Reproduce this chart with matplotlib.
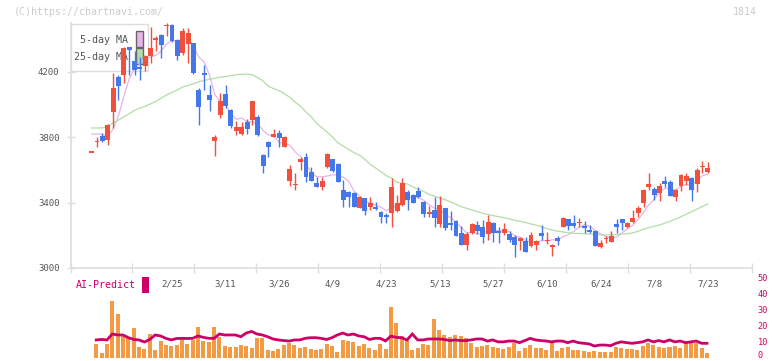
import matplotlib
matplotlib.use('Agg')
import matplotlib.pyplot as plt
import matplotlib.patches as patches
import matplotlib.transforms as mtransforms
import numpy as np

# Datos (velas diarias, volumen, AI-Predict)
open_ = [3710, 3770, 3806, 3785, 3955, 4167, 4182, 4350, 4265, 4233,
         4239, 4296, 4400, 4428, 4484, 4490, 4394, 4316, 4371, 4378,
         4092, 4194, 4061, 3779, 3939, 4065, 3969, 3837, 3822, 3896,
         3906, 3926, 3692, 3773, 3804, 3824, 3743, 3535, 3510, 3651,
         3681, 3590, 3522, 3498, 3620, 3667, 3637, 3478, 3465, 3461,
         3370, 3427, 3375, 3375, 3345, 3325, 3335, 3351, 3386, 3467,
         3447, 3473, 3406, 3331, 3355, 3269, 3365, 3277, 3290, 3216,
         3141, 3216, 3263, 3249, 3208, 3277, 3226, 3212, 3208, 3192,
         3167, 3167, 3135, 3141, 3216, 3165, 3127, 3186, 3253, 3298,
         3277, 3275, 3259, 3233, 3226, 3131, 3180, 3161, 3269, 3298,
         3253, 3284, 3339, 3396, 3498, 3482, 3457, 3533, 3524, 3437,
         3502, 3535, 3549, 3514, 3618, 3586]
high = [3710, 3804, 3825, 3880, 4192, 4180, 4350, 4355, 4327, 4290,
        4305, 4477, 4418, 4430, 4498, 4492, 4400, 4470, 4467, 4380,
        4100, 4245, 4122, 3816, 4071, 4122, 3975, 3898, 3896, 3910,
        4025, 3935, 3695, 3775, 3849, 3845, 3808, 3631, 3580, 3681,
        3702, 3620, 3555, 3555, 3706, 3670, 3640, 3539, 3470, 3465,
        3440, 3430, 3433, 3406, 3350, 3335, 3549, 3447, 3549, 3475,
        3450, 3498, 3408, 3380, 3437, 3441, 3368, 3351, 3292, 3257,
        3222, 3275, 3290, 3294, 3325, 3280, 3249, 3273, 3229, 3200,
        3190, 3188, 3222, 3170, 3263, 3222, 3145, 3196, 3310, 3300,
        3325, 3304, 3290, 3263, 3230, 3171, 3196, 3229, 3298, 3300,
        3284, 3355, 3381, 3485, 3583, 3498, 3518, 3563, 3539, 3485,
        3575, 3580, 3555, 3610, 3655, 3647]
low = [3710, 3739, 3774, 3753, 3855, 4030, 4134, 4180, 4180, 4153,
       4204, 4253, 4327, 4283, 4420, 4385, 4273, 4306, 4253, 4190,
       3877, 4092, 3959, 3684, 3918, 3980, 3857, 3816, 3812, 3820,
       3875, 3808, 3583, 3681, 3800, 3739, 3740, 3502, 3478, 3600,
       3528, 3530, 3495, 3478, 3615, 3590, 3525, 3375, 3371, 3371,
       3368, 3325, 3355, 3355, 3274, 3274, 3249, 3345, 3380, 3355,
       3398, 3427, 3310, 3314, 3249, 3253, 3233, 3233, 3195, 3138,
       3110, 3210, 3208, 3155, 3171, 3161, 3155, 3205, 3161, 3066,
       3110, 3098, 3130, 3110, 3171, 3147, 3073, 3141, 3250, 3233,
       3243, 3253, 3216, 3212, 3133, 3125, 3151, 3158, 3216, 3233,
       3243, 3273, 3314, 3375, 3478, 3416, 3412, 3494, 3440, 3412,
       3473, 3508, 3412, 3467, 3580, 3584]
close = [3710, 3776, 3776, 3874, 4104, 4112, 4345, 4335, 4214, 4220,
         4300, 4347, 4405, 4367, 4488, 4388, 4300, 4449, 4439, 4196,
         3984, 4180, 4030, 3804, 4020, 3990, 3867, 3863, 3863, 3849,
         4022, 3814, 3624, 3743, 3820, 3798, 3804, 3606, 3514, 3667,
         3559, 3535, 3498, 3535, 3698, 3594, 3528, 3416, 3433, 3375,
         3433, 3351, 3400, 3359, 3310, 3310, 3498, 3396, 3522, 3416,
         3400, 3437, 3331, 3345, 3308, 3386, 3247, 3263, 3198, 3141,
         3208, 3269, 3226, 3192, 3284, 3212, 3212, 3239, 3171, 3141,
         3182, 3100, 3202, 3167, 3196, 3169, 3141, 3167, 3304, 3257,
         3259, 3279, 3247, 3222, 3135, 3151, 3184, 3196, 3253, 3273,
         3277, 3308, 3369, 3478, 3514, 3447, 3502, 3514, 3441, 3478,
         3569, 3563, 3478, 3600, 3622, 3610]
ma5 = [3820, 3820, 3818, 3808, 3850, 3932, 4050, 4158, 4222, 4248,
       4282, 4290, 4302, 4330, 4372, 4392, 4390, 4400, 4410, 4362,
       4290, 4262, 4180, 4060, 4020, 3998, 3942, 3910, 3918, 3895,
       3895, 3884, 3842, 3815, 3806, 3768, 3762, 3752, 3710, 3682,
       3635, 3585, 3558, 3559, 3563, 3570, 3570, 3555, 3530, 3470,
       3440, 3405, 3400, 3386, 3372, 3350, 3374, 3376, 3406, 3426,
       3440, 3430, 3415, 3386, 3366, 3360, 3325, 3310, 3280, 3248,
       3215, 3218, 3210, 3208, 3234, 3236, 3226, 3228, 3222, 3196,
       3188, 3168, 3160, 3158, 3168, 3166, 3173, 3170, 3192, 3205,
       3225, 3250, 3266, 3254, 3230, 3208, 3192, 3184, 3190, 3215,
       3240, 3262, 3296, 3340, 3388, 3422, 3460, 3488, 3485, 3478,
       3500, 3512, 3508, 3538, 3565, 3574]
ma25 = [3857, 3857, 3858, 3865, 3890, 3905, 3925, 3945, 3965, 3978,
        3990, 4005, 4020, 4040, 4060, 4075, 4090, 4108, 4118, 4128,
        4140, 4148, 4155, 4162, 4168, 4172, 4178, 4183, 4186, 4188,
        4183, 4165, 4145, 4112, 4098, 4086, 4066, 4045, 4015, 3990,
        3955, 3925, 3885, 3858, 3830, 3800, 3765, 3745, 3725, 3705,
        3690, 3665, 3635, 3612, 3590, 3565, 3550, 3525, 3518, 3514,
        3495, 3482, 3468, 3450, 3440, 3428, 3418, 3405, 3390, 3375,
        3365, 3355, 3345, 3335, 3328, 3320, 3314, 3308, 3300, 3292,
        3285, 3278, 3270, 3262, 3252, 3240, 3232, 3225, 3220, 3216,
        3212, 3211, 3210, 3208, 3206, 3204, 3202, 3203, 3205, 3208,
        3210, 3215, 3225, 3237, 3247, 3255, 3263, 3275, 3287, 3300,
        3314, 3330, 3345, 3361, 3377, 3392]
volume = [0, 8.6, 2.9, 8.6, 35.6, 27.3, 13.6, 12.7, 18.6, 6.5,
          5.2, 14.8, 4.8, 10.4, 7.9, 7.3, 7.9, 12.7, 8.6, 11.1,
          19, 10.6, 9.8, 19, 13.1, 7.3, 6.7, 6.7, 7.9, 7.3,
          5.8, 12.3, 12.5, 4.8, 4.2, 5.4, 7.9, 9.4, 7.9, 6.1,
          6.5, 5.4, 4.8, 5.4, 8.6, 7.3, 3.8, 11.1, 10.4, 10,
          7.3, 8.6, 5.8, 4.8, 8.6, 5.5, 31.7, 21.9, 13.6, 11.1,
          4.8, 6.3, 8.6, 7.9, 24.2, 17.3, 14.2, 12.7, 14.2, 13.6,
          12.1, 9, 6.5, 7.3, 7.9, 6.5, 5.9, 5.2, 6.5, 9.4,
          4.4, 6.3, 7.9, 6.3, 5.9, 4.8, 10, 4.4, 5.9, 6.9,
          4.8, 4.8, 4.2, 3.8, 4.4, 3.6, 3.6, 3.6, 6.9, 6.3,
          5.2, 5.2, 4.8, 7.3, 9.4, 7.9, 6.5, 5.9, 6.5, 7.3,
          5.9, 9.4, 10, 9.4, 6.3, 3.1]
ai_predict = [np.nan, 11.1, 11.4, 11.1, 14.8, 14.2, 14.2, 12.5, 11.4, 11.1,
              9.8, 11.4, 14.2, 13.6, 12.1, 11.1, 12, 12.1, 12, 12.1,
              13.6, 12.7, 12.1, 12.1, 14.8, 14.2, 14.2, 14.2, 13.1, 15.4,
              16.4, 14.8, 14.2, 13.1, 11.7, 11.1, 10.7, 10.4, 11.1, 11.1,
              12.1, 12.5, 12.5, 12.1, 11.4, 12.5, 14.2, 15.4, 14.2, 14.8,
              13.6, 13.1, 11.4, 12.1, 12.1, 10.5, 13.5, 12.7, 12.5, 11.1,
              14.8, 11.1, 11.1, 11.7, 11.7, 11.7, 11.4, 10.7, 11.1, 10.7,
              10.7, 11.1, 11.7, 11.7, 10.4, 11.1, 9.9, 9.9, 10.4, 10.4,
              9.4, 10.7, 12.1, 11.1, 10.7, 10.4, 9.9, 10.4, 10.4, 9.4,
              10.4, 9.4, 9, 8.6, 7.3, 7.9, 7.9, 7.5, 9, 9.9,
              9.4, 9, 9.4, 9.9, 11.1, 9.9, 10.7, 9.9, 11.1, 9.9,
              10.4, 9.4, 9.9, 10.4, 9, 9]
date_labels = ['2/25', '3/11', '3/26', '4/9', '4/23', '5/13',
               '5/27', '6/10', '6/24', '7/8', '7/23']
date_idx = [15, 25, 35, 45, 55, 65, 75, 85, 95, 105, 115]

RED = '#f0503c'
BLUE = '#4478ea'
PINK = '#e8b4ea'
GREEN = '#b4dca8'
ORANGE = '#f29a44'
MAGENTA = '#cc0066'
GRID = '#dddddd'
MONO = 'DejaVu Sans Mono'

o = np.array(open_, float)
h = np.array(high, float)
l = np.array(low, float)
c = np.array(close, float)
x = np.arange(len(c))
up = c >= o
col = np.where(up, RED, BLUE)
body_h = np.maximum(np.abs(c - o), 9)
body_lo = (o + c) / 2 - body_h / 2

fig = plt.figure(figsize=(7.72, 3.61), dpi=100)
xlim = (-3.95, 123.25)

# --- panel de precios ---
ax = fig.add_axes([70.5 / 772, 1 - 268 / 361, 681.5 / 772, 263 / 361])
ax.set_xlim(*xlim)
ax.set_ylim(3000, 4610)
for s in ['top', 'right']:
    ax.spines[s].set_visible(False)
for s in ['left', 'bottom']:
    ax.spines[s].set_color(GRID)
    ax.spines[s].set_linewidth(1.2)
ax.spines['left'].set_bounds(3000, 4500)

ax.vlines(x, l, h, colors=col, lw=1.0, zorder=4)
ax.bar(x, body_h, bottom=body_lo, width=0.92, color=col, linewidth=0, zorder=5)
ax.plot(x, ma5, color=PINK, lw=0.9, zorder=3)
ax.plot(x, ma25, color=GREEN, lw=0.9, zorder=3)

ax.set_yticks([3000, 3400, 3800, 4200])
ax.tick_params(axis='y', direction='inout', length=6, width=1, color=GRID,
               labelsize=6.5, labelcolor='#555555', pad=5)
for t in ax.get_yticklabels():
    t.set_family(MONO)

ax.set_xticks(np.linspace(xlim[0], xlim[1], 12))
ax.set_xticklabels([])
ax.tick_params(axis='x', direction='inout', length=7, width=1, color=GRID)
ax.set_xticks(date_idx, date_labels, minor=True)
ax.tick_params(axis='x', which='minor', length=0, labelsize=6.5,
               labelcolor='#555555', pad=8)
for t in ax.get_xticklabels(minor=True):
    t.set_family(MONO)

# leyenda (debajo de las velas)
leg = patches.Rectangle((70.7 / 772, 1 - 71 / 361), 77.5 / 772, 47 / 361,
                        transform=fig.transFigure, facecolor='white',
                        edgecolor=GRID, lw=1.0, zorder=1)
ax.add_artist(leg)
ax.text(128 / 772, 1 - 40 / 361, '5-day MA', transform=fig.transFigure,
        ha='right', va='center', fontsize=7.2, family=MONO, color='#555555', zorder=2)
ax.text(128 / 772, 1 - 57 / 361, '25-day MA', transform=fig.transFigure,
        ha='right', va='center', fontsize=7.2, family=MONO, color='#555555', zorder=2)
for yy, fc in [(31, PINK), (48, GREEN)]:
    r = patches.Rectangle((136 / 772, 1 - (yy + 16) / 361), 7 / 772, 16 / 361,
                          transform=fig.transFigure, facecolor=fc,
                          edgecolor='#666666', lw=1.0, zorder=2)
    ax.add_artist(r)

# --- panel de volumen ---
axv = fig.add_axes([70.5 / 772, 1 - 357.7 / 361, 681.5 / 772, 80 / 361])
axv.set_xlim(*xlim)
axv.set_ylim(0, 50)
axv.bar(x - 0.15, volume, width=0.75, color=ORANGE, linewidth=0)
axv.plot(x - 0.15, ai_predict, color=MAGENTA, lw=2.0, solid_joinstyle='miter')
for s in axv.spines.values():
    s.set_visible(False)
axv.set_xticks([])
axv.yaxis.tick_right()
axv.set_yticks([0, 10, 20, 30, 40, 50])
axv.tick_params(axis='y', length=0, labelsize=6.2, labelcolor=MAGENTA, pad=4)
lift = mtransforms.ScaledTranslation(0, 3 / 100, fig.dpi_scale_trans)
for t in axv.get_yticklabels():
    t.set_family(MONO)
    t.set_verticalalignment('center_baseline')
axv.get_yticklabels()[0].set_transform(axv.get_yaxis_text2_transform(4)[0] + lift)
axv.patch.set_alpha(0)

fig.text(76 / 772, 1 - 285 / 361, 'AI-Predict', fontsize=7.2, family=MONO,
         color=MAGENTA, ha='left', va='center')
fig.patches.append(patches.Rectangle((142 / 772, 1 - 293 / 361), 7 / 772, 16 / 361,
                                     transform=fig.transFigure, facecolor=MAGENTA,
                                     edgecolor='none'))

fig.text(14 / 772, 1 - 12 / 361, '(C)https://chartnavi.com/', fontsize=7.2,
         family=MONO, color='#cccccc', ha='left', va='center')
fig.text(757 / 772, 1 - 12 / 361, '1814', fontsize=7.2, family=MONO,
         color='#cccccc', ha='right', va='center')

plt.savefig('out.png', dpi=100)
